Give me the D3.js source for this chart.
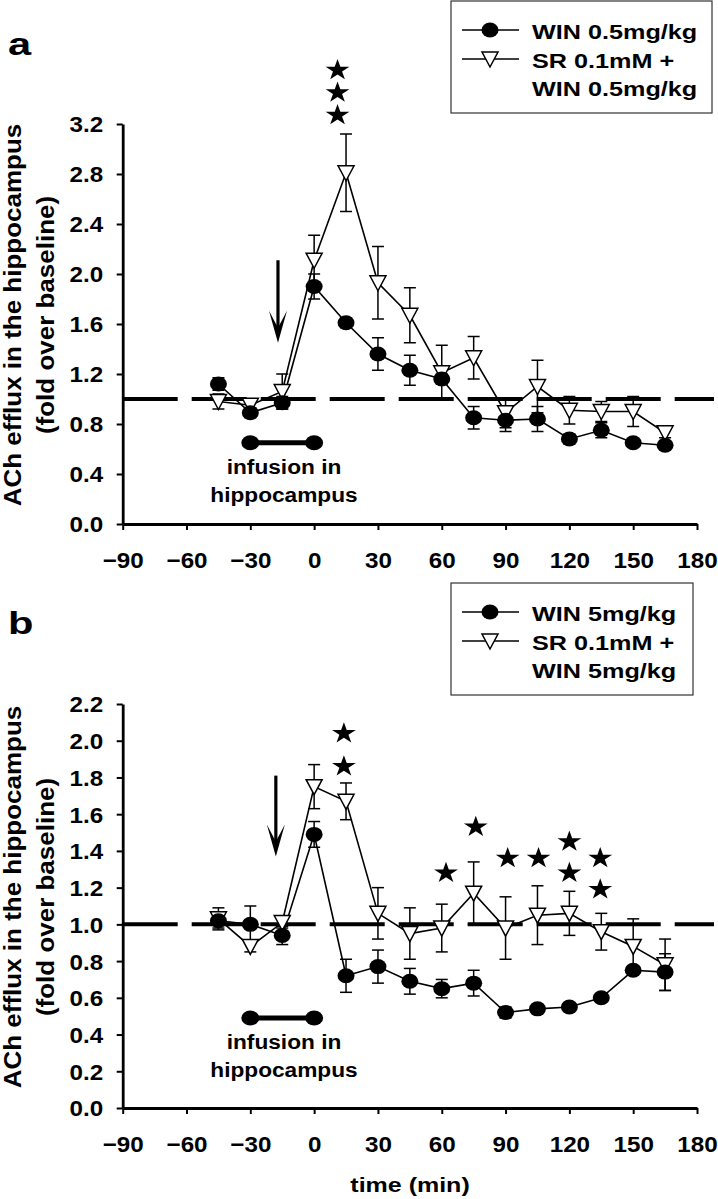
<!DOCTYPE html>
<html>
<head>
<meta charset="utf-8">
<script src="https://cdn.jsdelivr.net/npm/d3@7"></script>
<style>
  body { margin: 0; background: #fff; }
  svg { display: block; }
  text { font-family: "Liberation Sans", Arial, sans-serif; font-weight: bold; fill: #000; }
</style>
</head>
<body>
<svg id="chart" width="718" height="1199"></svg>
<script>
// sampling times (min)
const times = [-45, -30, -15, 0, 15, 30, 45, 60, 75, 90, 105, 120, 135, 150, 165];
const xTicks = [-90, -60, -30, 0, 30, 60, 90, 120, 150, 180];

// panel a: WIN 0.5 mg/kg
const winA    = [1.12, 0.89, 0.97, 1.90, 1.61, 1.36, 1.23, 1.16, 0.85, 0.83, 0.84, 0.68, 0.75, 0.65, 0.63];
const winAErr = [0.05, 0.04, 0.05, 0.10, 0.04, 0.13, 0.12, 0.04, 0.09, 0.09, 0.10, 0.04, 0.06, 0.02, 0.02];
const srA     = [0.98, 0.95, 1.06, 2.11, 2.81, 1.93, 1.67, 1.21, 1.33, 0.89, 1.10, 0.91, 0.90, 0.90, 0.73];
const srAErr  = [0.06, 0.03, 0.14, 0.20, 0.31, 0.29, 0.22, 0.22, 0.17, 0.12, 0.21, 0.11, 0.08, 0.12, 0.04];
const yTicksA = [0, 0.4, 0.8, 1.2, 1.6, 2.0, 2.4, 2.8, 3.2];
const starsA  = [[11, 3.63], [11, 3.45], [11, 3.27]];
const legendA = ["WIN 0.5mg/kg", "SR 0.1mM +", "WIN 0.5mg/kg"];

// panel b: WIN 5 mg/kg
const winB    = [1.02, 1.00, 0.94, 1.49, 0.72, 0.77, 0.69, 0.65, 0.68, 0.52, 0.54, 0.55, 0.60, 0.75, 0.74];
const winBErr = [0.04, 0.10, 0.05, 0.07, 0.09, 0.09, 0.07, 0.05, 0.07, 0.03, 0.02, 0.02, 0.02, 0.02, 0.10];
const srB     = [1.03, 0.88, 1.01, 1.75, 1.67, 1.06, 0.95, 0.98, 1.17, 0.98, 1.05, 1.06, 0.96, 0.88, 0.78];
const srBErr  = [0.06, 0.03, 0.03, 0.12, 0.10, 0.14, 0.14, 0.13, 0.17, 0.17, 0.16, 0.12, 0.10, 0.15, 0.14];
const yTicksB = [0, 0.2, 0.4, 0.6, 0.8, 1.0, 1.2, 1.4, 1.6, 1.8, 2.0, 2.2];
const starsB  = [[14, 2.04], [14, 1.86], [62, 1.28], [76, 1.53], [91, 1.36], [105.5, 1.36],
                 [120, 1.45], [120, 1.28], [134.5, 1.36], [134.5, 1.19]];
const legendB = ["WIN 5mg/kg", "SR 0.1mM +", "WIN 5mg/kg"];

// annotations: infusion period and arrow (time, value)
const infusion = [-30, 0];
const infusionLevel = [0.65, 0.49];
const arrowA = [-17, 2.11, 1.45];
const arrowB = [-18, 1.81, 1.37];

const svg = d3.select("#chart");
const FONT = 22;

// text helper, glyph width set by a horizontal scale
function sText(g, x, y, str, size, sx, anchor, rot) {
    return g.append("text")
        .attr("transform", "translate(" + x + "," + y + ") scale(" + sx + ",1)" + (rot ? " rotate(" + rot + ")" : ""))
        .attr("text-anchor", anchor || "start")
        .attr("font-size", size)
        .text(str);
}

function drawPanel(p) {
    const g = svg.append("g");
    const x = d3.scaleLinear().domain([-90, 180]).range([122.7, 697]);
    const y = d3.scaleLinear().domain([0, p.ymax]).range([p.bottom, p.top]);

    // dashed baseline
    g.append("line")
        .attr("x1", x(-90)).attr("x2", 714)
        .attr("y1", y(1)).attr("y2", y(1))
        .attr("stroke", "#000").attr("stroke-width", 4)
        .attr("stroke-dasharray", "55,14");

    // axes
    const ay = g.append("g").attr("transform", "translate(" + x(-90) + ",0)")
        .call(d3.axisLeft(y).tickValues(p.yTicks).tickSize(6).tickSizeOuter(0).tickFormat(d3.format(".1f")));
    const ax = g.append("g").attr("transform", "translate(0," + p.bottom + ")")
        .call(d3.axisBottom(x).tickValues(xTicks).tickSize(6).tickSizeOuter(0));
    [ay, ax].forEach(a => {
        a.select(".domain").attr("stroke", "#000").attr("stroke-width", 2.8);
        a.selectAll(".tick line").attr("stroke", "#000").attr("stroke-width", 2);
        a.selectAll(".tick text").attr("fill", "#000").attr("font-size", FONT)
            .attr("font-family", "'Liberation Sans', Arial, sans-serif").attr("font-weight", "bold");
    });
    ay.selectAll(".tick text").attr("x", null).attr("dy", "0.36em")
        .attr("transform", "translate(-19.5,0) scale(1.1,1)");
    ax.selectAll(".tick text").attr("y", null).attr("dy", null)
        .attr("transform", "translate(0,44) scale(1.1,1)");

    // axis title
    const yc = p.titleY;
    sText(g, 21, yc, "ACh efflux in the hippocampus", 26, 0.9, "middle", -90);
    sText(g, 54, yc, "(fold over baseline)", 26, 0.9, "middle", -90);

    // series
    const series = [
        { vals: p.sr, err: p.srErr, shape: "tri" },
        { vals: p.win, err: p.winErr, shape: "dot" }
    ];
    const line = d3.line().x((d, i) => x(times[i])).y(d => y(d));
    series.forEach(s => {
        const eg = g.append("g").attr("stroke", "#000").attr("stroke-width", 1.5);
        s.vals.forEach((v, i) => {
            const cx = x(times[i]);
            eg.append("line").attr("x1", cx).attr("x2", cx).attr("y1", y(v - s.err[i])).attr("y2", y(v + s.err[i]));
            [v - s.err[i], v + s.err[i]].forEach(e => {
                eg.append("line").attr("x1", cx - 6).attr("x2", cx + 6).attr("y1", y(e)).attr("y2", y(e));
            });
        });
        g.append("path").datum(s.vals).attr("d", line)
            .attr("fill", "none").attr("stroke", "#000").attr("stroke-width", 1.6);
    });
    series.forEach(s => {
        s.vals.forEach((v, i) => marker(g, s.shape, x(times[i]), y(v)));
    });

    // significance stars
    p.stars.forEach(s => {
        g.append("path").attr("d", d3.symbol(d3.symbolStar, 140)())
            .attr("transform", "translate(" + x(s[0]) + "," + y(s[1]) + ") scale(1.12,1)")
            .attr("fill", "#000");
    });

    // arrow marking injection
    const axp = x(p.arrow[0]), ya = y(p.arrow[1]), yb = y(p.arrow[2]);
    g.append("line").attr("x1", axp).attr("x2", axp).attr("y1", ya).attr("y2", yb - 10)
        .attr("stroke", "#000").attr("stroke-width", 3.2);
    g.append("path")
        .attr("d", "M" + axp + "," + yb + " L" + (axp - 9) + "," + (yb - 32) + " L" + axp + "," + (yb - 15) +
            " L" + (axp + 9) + "," + (yb - 32) + " Z")
        .attr("fill", "#000");

    // infusion bar
    const iy = y(p.infLevel);
    g.append("line").attr("x1", x(infusion[0])).attr("x2", x(infusion[1]))
        .attr("y1", iy).attr("y2", iy).attr("stroke", "#000").attr("stroke-width", 5);
    infusion.forEach(t => g.append("ellipse").attr("cx", x(t)).attr("cy", iy).attr("rx", 9).attr("ry", 7.5));
    sText(g, 284, iy + 31, "infusion in", 21, 1.08, "middle");
    sText(g, 284, iy + 59, "hippocampus", 21, 1.08, "middle");

    // panel letter
    sText(g, 8, p.letterY, p.letter, 32, 1.3, "start");

    // legend
    const lg = g.append("g");
    lg.append("rect").attr("x", p.legend.x).attr("y", p.legend.y)
        .attr("width", p.legend.w).attr("height", p.legend.h)
        .attr("fill", "#fff").attr("stroke", "#333").attr("stroke-width", 1.2);
    const rows = [p.legend.y + 30, p.legend.y + 59, p.legend.y + 87];
    p.legendText.forEach((t, i) => sText(lg, p.legend.x + 81, rows[i] + 7.5, t, 21, 1.2, "start"));
    [["dot", rows[0] - 1], ["tri", rows[1] - 1]].forEach(m => {
        lg.append("line").attr("x1", p.legend.x + 11).attr("x2", p.legend.x + 68)
            .attr("y1", m[1]).attr("y2", m[1]).attr("stroke", "#000").attr("stroke-width", 1.6);
        marker(lg, m[0], p.legend.x + 39, m[1]);
    });
}

function marker(g, shape, cx, cy) {
    if (shape === "dot") {
        g.append("ellipse").attr("cx", cx).attr("cy", cy).attr("rx", 8.5).attr("ry", 7.5).attr("fill", "#000");
    } else {
        g.append("path")
            .attr("d", "M" + (cx - 8) + "," + (cy - 7) + " L" + (cx + 8) + "," + (cy - 7) + " L" + cx + "," + (cy + 8) + " Z")
            .attr("fill", "#fff").attr("stroke", "#000").attr("stroke-width", 1.5);
    }
}

drawPanel({
    top: 124, bottom: 524, ymax: 3.2, yTicks: yTicksA,
    win: winA, winErr: winAErr, sr: srA, srErr: srAErr,
    stars: starsA, arrow: arrowA, infLevel: infusionLevel[0],
    letter: "a", letterY: 55, titleY: 315,
    legend: { x: 451, y: 1, w: 261, h: 112 }, legendText: legendA
});
drawPanel({
    top: 704, bottom: 1108, ymax: 2.2, yTicks: yTicksB,
    win: winB, winErr: winBErr, sr: srB, srErr: srBErr,
    stars: starsB, arrow: arrowB, infLevel: infusionLevel[1],
    letter: "b", letterY: 634, titleY: 897,
    legend: { x: 451, y: 583, w: 242, h: 112 }, legendText: legendB
});

sText(svg, 410, 1192, "time (min)", 21, 1.19, "middle");
</script>
</body>
</html>
